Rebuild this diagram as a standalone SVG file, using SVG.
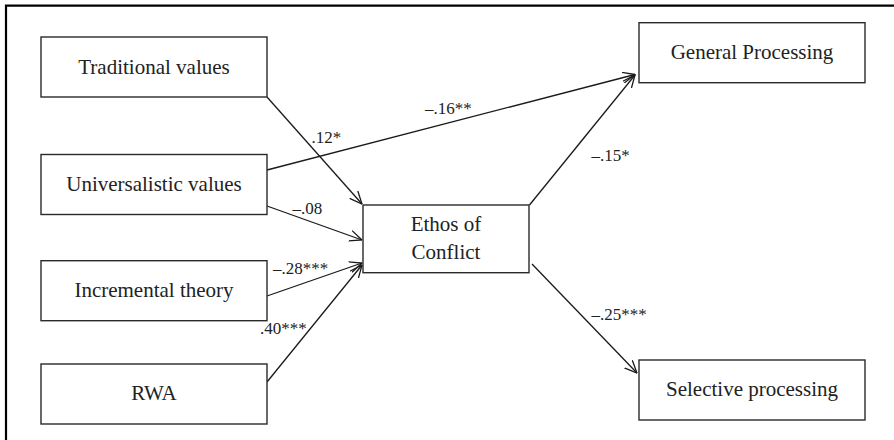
<svg xmlns="http://www.w3.org/2000/svg" width="894" height="440" viewBox="0 0 894 440">
<style>
.box{fill:#fff;stroke:#2a2a2a;stroke-width:1.4}
.t{font-family:"Liberation Serif","Times New Roman",serif;font-size:21px;fill:#222;text-anchor:middle}
.l{font-family:"Liberation Serif","Times New Roman",serif;font-size:17px;fill:#222}
.c{fill:none;stroke:#1a1a1a;stroke-width:1.3}
</style>
<defs>
<marker id="ah" markerUnits="userSpaceOnUse" viewBox="0 0 13 12" refX="12.5" refY="6" markerWidth="13" markerHeight="12" orient="auto">
<path d="M0,0.5 L12.5,6 L0,11.5" fill="none" stroke="#1a1a1a" stroke-width="1.3"/>
</marker>
</defs>
<rect width="894" height="440" fill="#fff"/>
<path d="M6,440 V5.7 H894" fill="none" stroke="#000" stroke-width="2.2"/>
<g id="connectors">
<line class="c" x1="267" y1="97" x2="362" y2="204" marker-end="url(#ah)"/>
<line class="c" x1="267" y1="170" x2="635" y2="74.5" marker-end="url(#ah)"/>
<line class="c" x1="267" y1="206" x2="362" y2="240" marker-end="url(#ah)"/>
<line class="c" x1="267" y1="296" x2="362" y2="263" marker-end="url(#ah)"/>
<line class="c" x1="267" y1="382" x2="362" y2="265" marker-end="url(#ah)"/>
<line class="c" x1="529.5" y1="205" x2="635" y2="75" marker-end="url(#ah)"/>
<line class="c" x1="532" y1="264" x2="637" y2="373" marker-end="url(#ah)"/>
<text class="l" x="311.5" y="143">.12*</text>
<text class="l" x="425" y="114">–.16**</text>
<text class="l" x="292.5" y="214">–.08</text>
<text class="l" x="273" y="274">–.28***</text>
<text class="l" x="260" y="333.5">.40***</text>
<text class="l" x="591.5" y="161">–.15*</text>
<text class="l" x="591.5" y="320">–.25***</text>
</g>
<g id="traditional"><rect class="box" x="41" y="37" width="226" height="60"/><text class="t" x="154" y="73.5">Traditional values</text></g>
<g id="universalistic"><rect class="box" x="41" y="154.5" width="226" height="60"/><text class="t" x="154" y="190.5">Universalistic values</text></g>
<g id="incremental"><rect class="box" x="41" y="260.7" width="226" height="60"/><text class="t" x="154" y="297">Incremental theory</text></g>
<g id="rwa"><rect class="box" x="41" y="364" width="226" height="60"/><text class="t" x="154" y="400">RWA</text></g>
<g id="ethos"><rect class="box" x="363" y="205" width="166" height="67.7"/><text class="t" x="446" y="231">Ethos of</text><text class="t" x="446" y="259">Conflict</text></g>
<g id="general"><rect class="box" x="639" y="22.7" width="226" height="60"/><text class="t" x="752" y="58.5">General Processing</text></g>
<g id="selective"><rect class="box" x="639" y="360" width="226" height="60"/><text class="t" x="752" y="395.5">Selective processing</text></g>
</svg>
